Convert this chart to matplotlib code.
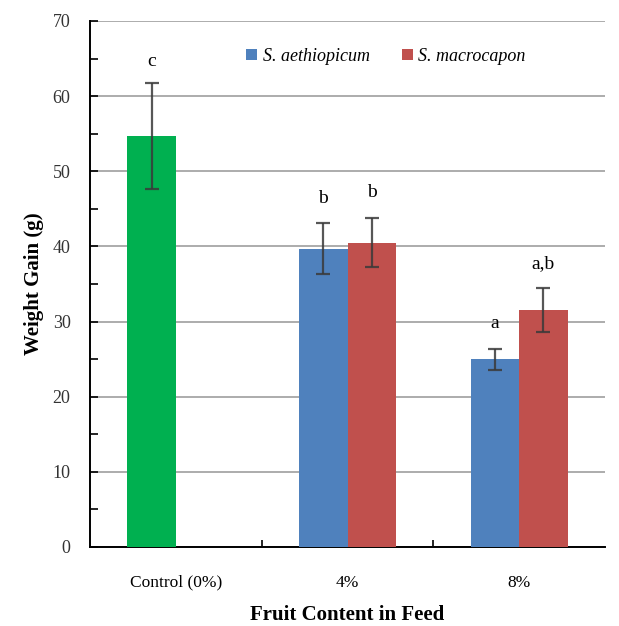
import numpy as np
import matplotlib.pyplot as plt
from matplotlib.ticker import MultipleLocator

groups = ['Control (0%)', '4%', '8%']
control_mean = [54.7]
control_err = [7.0]
aeth_mean = [39.7, 25.0]
aeth_err = [3.4, 1.4]
macro_mean = [40.5, 31.5]
macro_err = [3.3, 2.9]
control_letter = ['c']
aeth_letters = ['b', 'a']
macro_letters = ['b', 'a,b']

plt.rcParams['font.family'] = ['Liberation Serif', 'DejaVu Serif']

fig = plt.figure(figsize=(6.19, 6.26), dpi=100)
ax = fig.add_axes([0.1454, 0.1262, 0.832, 0.8403])

w = 0.283
x = np.arange(len(groups))
ebar = dict(ecolor='#3a3a3a', elinewidth=1.6, capsize=5, capthick=1.6, alpha=0.85)

ax.bar(x[:1] - w / 2, control_mean, w, color='#00B050', yerr=control_err,
       error_kw=ebar, zorder=3)
ax.bar(x[1:] - w / 2, aeth_mean, w, color='#4F81BD', yerr=aeth_err,
       error_kw=ebar, zorder=3, label='S. aethiopicum')
ax.bar(x[1:] + w / 2, macro_mean, w, color='#C0504D', yerr=macro_err,
       error_kw=ebar, zorder=3, label='S. macrocapon')

# significance letters
for xi, m, e, t in zip(x[:1] - w / 2, control_mean, control_err, control_letter):
    ax.text(xi, m + e + 1.8, t, ha='center', va='bottom', fontsize=14)
for xi, m, e, t in zip(x[1:] - w / 2, aeth_mean, aeth_err, aeth_letters):
    ax.text(xi, m + e + 2.2, t, ha='center', va='bottom', fontsize=14)
for xi, m, e, t in zip(x[1:] + w / 2, macro_mean, macro_err, macro_letters):
    ax.text(xi, m + e + 2.2, t, ha='center', va='bottom', fontsize=14)

ax.set_xlim(-0.5, 2.5)
ax.set_ylim(0, 70)
ax.yaxis.set_major_locator(MultipleLocator(10))
ax.yaxis.set_minor_locator(MultipleLocator(5))
ax.grid(axis='y', color='#a6a6a6', linewidth=1.3, zorder=0)
ax.set_axisbelow(True)

ax.set_xticks(x)
ax.set_xticklabels(groups, fontsize=12.5)
ax.set_xticks([0.5, 1.5], minor=True)
ax.tick_params(axis='x', which='major', length=0, pad=20)
ax.tick_params(axis='x', which='minor', direction='in', length=5, width=1.2)
ax.tick_params(axis='y', which='both', direction='in', length=6, width=1.2,
               labelsize=13, pad=14)
for lab in ax.get_yticklabels():
    lab.set_color('#333333')

for s in ['top', 'right']:
    ax.spines[s].set_visible(False)
for s in ['left', 'bottom']:
    ax.spines[s].set_linewidth(1.4)

ax.set_ylabel('Weight Gain (g)', fontsize=15, fontweight='bold', labelpad=6)
ax.set_xlabel('Fruit Content in Feed', fontsize=15, fontweight='bold', labelpad=10)

ax.legend(loc='upper center', bbox_to_anchor=(0.575, 0.98), ncol=2, frameon=False,
          prop={'style': 'italic', 'size': 13}, handlelength=0.6, handleheight=0.6,
          handletextpad=0.3, columnspacing=1.8)

plt.savefig('out.png', dpi=100)
